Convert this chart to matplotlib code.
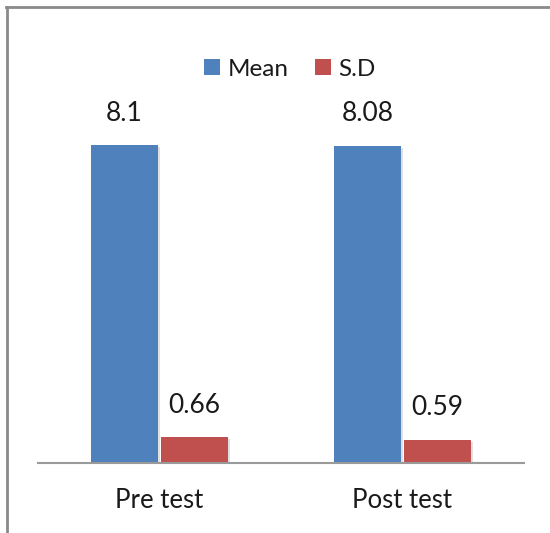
import matplotlib
matplotlib.use("Agg")
import matplotlib.pyplot as plt
from matplotlib.lines import Line2D
import matplotlib.patheffects as pe
import numpy as np

categories = ["Pre test", "Post test"]
mean_vals = [8.1, 8.08]
sd_vals = [0.66, 0.59]
mean_labels = ["8.1", "8.08"]
sd_labels = ["0.66", "0.59"]

W, H, DPI = 550, 533, 100
fig = plt.figure(figsize=(W / DPI, H / DPI), dpi=DPI)
plt.rcParams['font.family'] = ['Lato', 'DejaVu Sans']

ppu = 318 / 8.1
ymax = 9.0
ax = fig.add_axes([38 / W, 1 - 463 / H, 486 / W, ymax * ppu / H])

x = np.arange(len(categories))
bw = 0.276
off = 0.1445
blue = "#4F81BD"
red = "#C0504D"
shadow = [pe.SimplePatchShadow(offset=(1.5, -1.5), shadow_rgbFace="#000000", alpha=0.12), pe.Normal()]
b1 = ax.bar(x - off, mean_vals, bw, color=blue, label="Mean", path_effects=shadow, zorder=2)
b2 = ax.bar(x + off, sd_vals, bw, color=red, label="S.D", path_effects=shadow, zorder=2)

for bars, labs in ((b1, mean_labels), (b2, sd_labels)):
    for r, t in zip(bars, labs):
        ax.annotate(t, (r.get_x() + r.get_width() / 2, r.get_height()),
                    xytext=(0, 14), textcoords="offset points",
                    ha="center", va="bottom", fontsize=19, color="#1a1a1a")

ax.set_xlim(-0.5, 1.5)
ax.set_ylim(0, ymax)
ax.set_xticks(x)
ax.set_xticklabels(categories, fontsize=18.5, color="#1a1a1a")
ax.tick_params(axis="x", length=0, pad=18)
ax.set_yticks([])
for s in ("top", "right", "left"):
    ax.spines[s].set_visible(False)
ax.spines["bottom"].set_color("#9a9a9a")
ax.spines["bottom"].set_linewidth(1.5)
ax.spines["bottom"].set_zorder(3)

leg = fig.legend(handles=[b1, b2], labels=["Mean", "S.D"], loc="center",
                 bbox_to_anchor=(290 / W, 1 - 69 / H), ncol=2, frameon=False,
                 fontsize=17.5, handlelength=0.65, handleheight=0.65,
                 handletextpad=0.3, columnspacing=1.1)
for t in leg.get_texts():
    t.set_color("#1a1a1a")
for h in leg.legend_handles:
    h.set_path_effects([])

# figure frame (top and left edges)
fig.add_artist(Line2D([6 / W, 1], [1 - 7 / H, 1 - 7 / H], transform=fig.transFigure,
                      color="#8a8a8a", lw=2.0))
fig.add_artist(Line2D([7 / W, 7 / W], [0, 1 - 7 / H], transform=fig.transFigure,
                      color="#8a8a8a", lw=2.0))

fig.savefig("out.png", dpi=DPI)
